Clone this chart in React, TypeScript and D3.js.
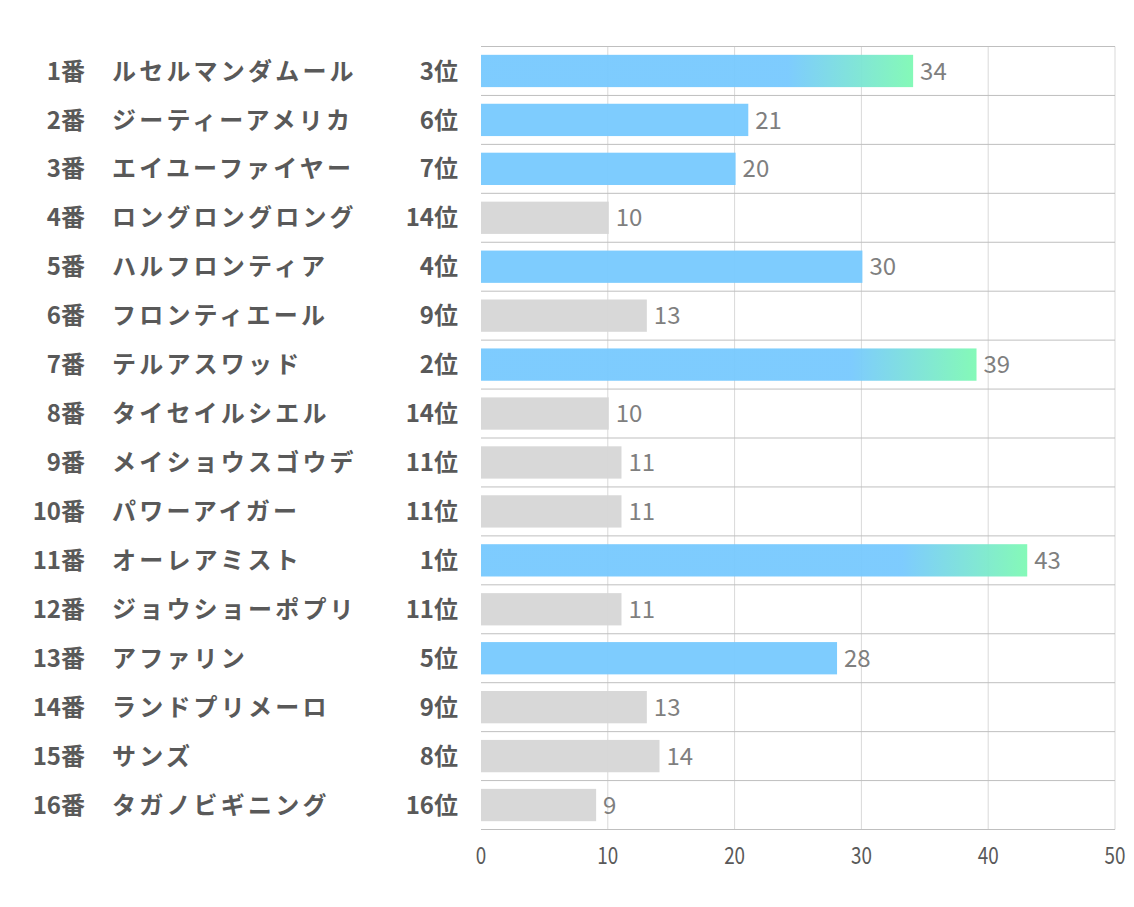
import React from "react";
import * as d3 from "d3";

const horseNums = ["1番","2番","3番","4番","5番","6番","7番","8番","9番","10番","11番","12番","13番","14番","15番","16番"];
const horseNames = ["ルセルマンダムール","ジーティーアメリカ","エイユーファイヤー","ロングロングロング","ハルフロンティア","フロンティエール","テルアスワッド","タイセイルシエル","メイショウスゴウデ","パワーアイガー","オーレアミスト","ジョウショーポプリ","アファリン","ランドプリメーロ","サンズ","タガノビギニング"];
const ranks = [3,6,7,14,4,9,2,14,11,11,1,11,5,9,8,16];
const values = [34,21,20,10,30,13,39,10,11,11,43,11,28,13,14,9];
const xTicks = [0,10,20,30,40,50];

const W = 1134, H = 907;
const plotL = 481, plotR = 1115, plotT = 46.5, plotB = 829.5;
const FONT = "'Noto Sans CJK JP', 'Noto Sans', sans-serif";

export default function App() {
  const x = d3.scaleLinear().domain([0, 50]).range([plotL, plotR]);
  const y = d3.scaleBand<number>().domain(d3.range(values.length)).range([plotT, plotB]).paddingInner(0.34).paddingOuter(0.17);
  const step = y.step();
  const rowTop = (i: number) => plotT + i * step;
  return (
    <svg width={W} height={H} style={{ position: "absolute", left: 0, top: 0, background: "#fff" }}>
      <defs>
        {values.map((v, i) => {
          const len = x(v) - x(0);
          const start = Math.max(0, 1 - 125 / len);
          return (
            <linearGradient key={i} id={`g${i}`} x1="0" x2="1" y1="0" y2="0">
              <stop offset="0" stopColor="#77c9fe" />
              <stop offset={start} stopColor="#77c9fe" />
              <stop offset="1" stopColor="#7ef9b4" />
            </linearGradient>
          );
        })}
      </defs>
      {xTicks.filter(t => t > 0).map(t => (
        <line key={t} x1={x(t)} x2={x(t)} y1={plotT} y2={plotB} stroke="#d9d9d9" strokeWidth={1} />
      ))}
      {d3.range(values.length + 1).map(i => (
        <line key={i} x1={plotL} x2={plotR} y1={rowTop(i)} y2={rowTop(i)} stroke="#bfbfbf" strokeWidth={1} />
      ))}
      {values.map((v, i) => {
        const r = ranks[i];
        const fill = r <= 3 ? `url(#g${i})` : r <= 7 ? "#77c9fe" : "#d6d6d6";
        return (
          <g key={i}>
            <rect x={x(0)} y={y(i)} width={x(v) - x(0) + 1} height={y.bandwidth()} fill={fill} opacity={0.95} />
            <text x={x(v) + 8} y={rowTop(i) + step / 2} dy="0.36em" fontSize={24} fill="#7f7f7f" fontFamily={FONT}>{v}</text>
            <text x={85} y={rowTop(i) + step / 2} dy="0.36em" textAnchor="end" fontSize={24} fontWeight="bold" fill="#595959" fontFamily={FONT}>{horseNums[i]}</text>
            <text x={112} y={rowTop(i) + step / 2} dy="0.36em" fontSize={24} letterSpacing={3.2} fontWeight="bold" fill="#595959" fontFamily={FONT}>{horseNames[i]}</text>
            <text x={458} y={rowTop(i) + step / 2} dy="0.36em" textAnchor="end" fontSize={24} fontWeight="bold" fill="#595959" fontFamily={FONT}>{ranks[i]}位</text>
          </g>
        );
      })}
      {xTicks.map(t => (
        <text key={t} transform={`translate(${x(t)},856) scale(0.82,1)`} dy="0.36em" textAnchor="middle" fontSize={23} fill="#595959" fontFamily={FONT}>{t}</text>
      ))}
    </svg>
  );
}
